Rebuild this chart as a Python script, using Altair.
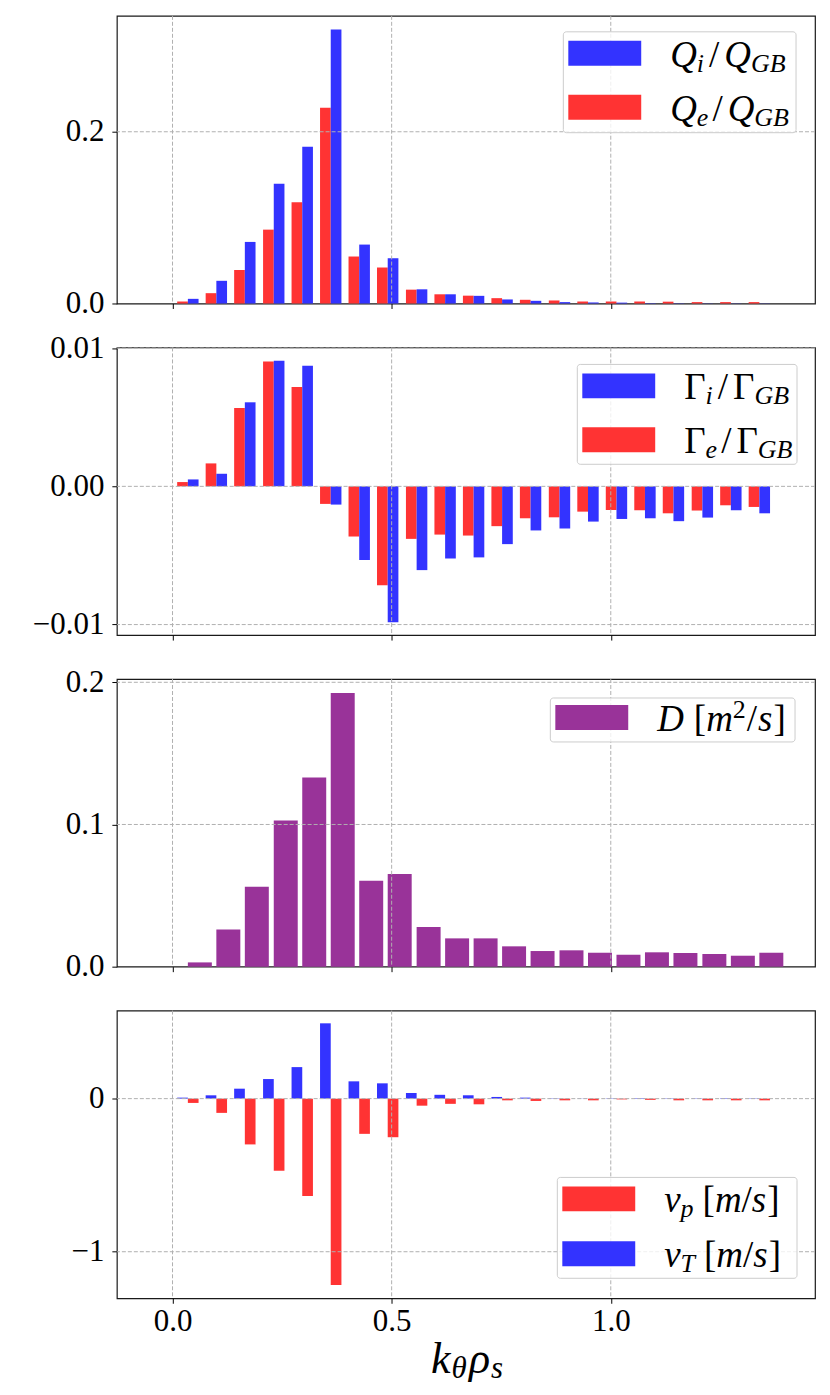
import altair as alt
import pandas as pd

# ---------------- data ----------------
k_vals = [0.035, 0.100, 0.165, 0.231, 0.296, 0.361, 0.426, 0.491, 0.557, 0.622, 0.687,
          0.752, 0.817, 0.883, 0.948, 1.013, 1.078, 1.143, 1.209, 1.274, 1.339]
Qi = [0.0054, 0.0264, 0.0717, 0.1395, 0.1826, 0.319, 0.0686, 0.0527, 0.0165, 0.0107, 0.0089,
      0.0047, 0.0031, 0.0016, 0.0012, 0.0010, 0.0004, 0.0003, 0.0002, 0.0002, 0.0002]
Qe = [0.0023, 0.0120, 0.0390, 0.0860, 0.1180, 0.228, 0.0547, 0.0419, 0.0161, 0.0107, 0.0091,
      0.0062, 0.0043, 0.0035, 0.0023, 0.0023, 0.0023, 0.0021, 0.0016, 0.0016, 0.0016]
Gi = [0.00050, 0.00091, 0.00608, 0.00908, 0.00872, -0.00132, -0.00533, -0.00983, -0.00606,
      -0.00522, -0.00514, -0.00418, -0.00319, -0.00305, -0.00255, -0.00236, -0.00231,
      -0.00252, -0.00226, -0.00173, -0.00195]
Ge = [0.00031, 0.00166, 0.00567, 0.00904, 0.00718, -0.00127, -0.00363, -0.00716, -0.00380,
      -0.00349, -0.00356, -0.00288, -0.00231, -0.00224, -0.00183, -0.00171, -0.00173,
      -0.00195, -0.00175, -0.00137, -0.00149]
D = [0.0030, 0.0262, 0.0562, 0.1028, 0.1330, 0.1925, 0.0604, 0.0651, 0.0279, 0.0199, 0.0199,
     0.0143, 0.0110, 0.0115, 0.0098, 0.0084, 0.0101, 0.0096, 0.0089, 0.0077, 0.0098]
vT = [0.0065, 0.0217, 0.065, 0.128, 0.206, 0.492, 0.113, 0.100, 0.037, 0.025, 0.022,
      0.011, 0.0065, 0.002, 0.001, 0.002, 0.003, 0.002, 0.002, 0.003, 0.002]
vp = [-0.028, -0.093, -0.299, -0.471, -0.636, -1.217, -0.230, -0.252, -0.046, -0.034, -0.037,
      -0.011, -0.015, -0.011, -0.011, -0.005, -0.008, -0.011, -0.011, -0.011, -0.011]

x_ticks = [0.0, 0.5, 1.0]
q_ticks = [0.0, 0.2]
g_ticks = [-0.01, 0.0, 0.01]
d_ticks = [0.0, 0.1, 0.2]
v_ticks = [-1, 0]

x_domain = [-0.127, 1.466]
q_domain = [0, 0.335]
g_domain = [-0.01076, 0.01005]
d_domain = [0, 0.2023]
v_domain = [-1.304, 0.575]

# ---------------- styling ----------------
RED = "#ff3333"
BLUE = "#3333ff"
PURPLE = "#993399"
GRID = "#b0b0b0"
FONT = "Liberation Serif"
TICK_FS = 31
W, H = 699, 288
BW = 0.0244   # width of a paired bar (data units)
DW = 0.0547   # width of a D bar (data units)

df = pd.DataFrame({"k": k_vals, "Qi": Qi, "Qe": Qe, "Gi": Gi, "Ge": Ge,
                   "D": D, "vT": vT, "vp": vp})
ONE = [{"o": 1}]

xs = alt.Scale(domain=x_domain, nice=False, zero=False)


def x_axis(labels):
    return alt.Axis(values=x_ticks, labels=labels, format=".1f", title=None, grid=False,
                    domain=False, ticks=True, tickSize=5, tickColor="black", tickWidth=1,
                    labelFont=FONT, labelFontSize=TICK_FS, labelColor="black",
                    labelPadding=3, labelFlush=False)


def y_axis(vals, fmt):
    return alt.Axis(values=vals, format=fmt, title=None, grid=False, domain=False,
                    tickSize=5, tickColor="black", tickWidth=1, labelFont=FONT,
                    labelFontSize=TICK_FS, labelColor="black", labelPadding=8,
                    labelFlush=False, minExtent=85, maxExtent=85)


def bar_layer(field, color, lo, hi, ys, xaxis, yaxis):
    return alt.Chart(df).transform_calculate(b0=lo, b1=hi).mark_bar(color=color).encode(
        x=alt.X("b0:Q", scale=xs, axis=xaxis),
        x2="b1:Q",
        y=alt.Y(f"{field}:Q", scale=ys, axis=yaxis),
        y2=alt.datum(0),
    )


def vgrid(xaxis):
    return alt.Chart(pd.DataFrame({"g": x_ticks})).mark_rule(
        color=GRID, strokeDash=[4, 2], strokeWidth=1).encode(
        x=alt.X("g:Q", scale=xs, axis=xaxis))


def hgrid(vals, ys, yaxis):
    return alt.Chart(pd.DataFrame({"g": vals})).mark_rule(
        color=GRID, strokeDash=[4, 2], strokeWidth=1).encode(
        y=alt.Y("g:Q", scale=ys, axis=yaxis))


def rect(x1, x2, y1, y2, **kw):
    return alt.Chart(alt.Data(values=ONE)).mark_rect(**kw).encode(
        x=alt.value(x1), x2=alt.value(x2), y=alt.value(y1), y2=alt.value(y2))


IT = {"Q": 0.722, "i": 0.278, "G": 0.722, "B": 0.611, "e": 0.444, "D": 0.722, "m": 0.722,
      "s": 0.389, "v": 0.444, "p": 0.5, "T": 0.556, "k": 0.444, "θ": 0.5, "ρ": 0.5}
RM = {"/": 0.278, "[": 0.333, "]": 0.333, "2": 0.5, "Γ": 0.58, " ": 0.25}


def piece_width(txt, style, size):
    table = IT if style == "it" else RM
    return sum(table.get(c, 0.5) for c in txt) * size


def math_text(pieces, x0, base_y, fs, ss, center=False):
    total = 0
    for txt, role, style, gap in pieces:
        total += piece_width(txt, style, fs if role == "n" else ss) + gap
    x = x0 - total / 2 if center else x0
    layers = []
    for txt, role, style, gap in pieces:
        size = fs if role == "n" else ss
        dy = 0 if role == "n" else (5 if role == "sub" else -13)
        layers.append(
            alt.Chart(alt.Data(values=ONE)).mark_text(
                align="left", baseline="alphabetic", font=FONT, fontSize=size,
                fontStyle="italic" if style == "it" else "normal", color="black"
            ).encode(x=alt.value(x), y=alt.value(base_y + dy), text=alt.value(txt))
        )
        x += piece_width(txt, style, size) + gap
    return layers


LFS, LSS = 37, 26


def legend(bx1, bx2, by1, by2, rows):
    layers = [rect(bx1, bx2, by1, by2, fill="white", fillOpacity=0.8, stroke="#cccccc",
                   strokeWidth=1, cornerRadius=3)]
    for (sy, color, pieces) in rows:
        layers.append(rect(bx1 + 5, bx1 + 78, sy, sy + 25, fill=color))
        layers += math_text(pieces, bx1 + 107, sy + 26, LFS, LSS)
    return layers


lab_Qi = [("Q", "n", "it", 0), ("i", "sub", "it", 5), ("/", "n", "rm", 5),
          ("Q", "n", "it", 0), ("GB", "sub", "it", 0)]
lab_Qe = [("Q", "n", "it", 0), ("e", "sub", "it", 4), ("/", "n", "rm", 5),
          ("Q", "n", "it", 0), ("GB", "sub", "it", 0)]
lab_Gi = [("Γ", "n", "rm", 0), ("i", "sub", "it", 5), ("/", "n", "rm", 5),
          ("Γ", "n", "rm", 0), ("GB", "sub", "it", 0)]
lab_Ge = [("Γ", "n", "rm", 0), ("e", "sub", "it", 4), ("/", "n", "rm", 5),
          ("Γ", "n", "rm", 0), ("GB", "sub", "it", 0)]
lab_D = [("D", "n", "it", 10), ("[", "n", "rm", 0), ("m", "n", "it", 0),
         ("2", "sup", "rm", 1), ("/", "n", "rm", 1), ("s", "n", "it", 1), ("]", "n", "rm", 0)]
lab_vp = [("v", "n", "it", 0), ("p", "sub", "it", 9), ("[", "n", "rm", 0), ("m", "n", "it", 0),
          ("/", "n", "rm", 0), ("s", "n", "it", 1), ("]", "n", "rm", 0)]
lab_vT = [("v", "n", "it", 0), ("T", "sub", "it", 9), ("[", "n", "rm", 0), ("m", "n", "it", 0),
          ("/", "n", "rm", 0), ("s", "n", "it", 1), ("]", "n", "rm", 0)]
lab_x = [("k", "n", "it", 1), ("θ", "sub", "it", 2), ("ρ", "n", "it", 0), ("s", "sub", "it", 0)]

# ---------------- panels ----------------
qs = alt.Scale(domain=q_domain, nice=False, zero=False)
gs = alt.Scale(domain=g_domain, nice=False, zero=False)
ds = alt.Scale(domain=d_domain, nice=False, zero=False)
vs = alt.Scale(domain=v_domain, nice=False, zero=False)


def panel(bars, ys, yvals, yfmt, grid_y, legend_layers, show_x, extra=()):
    xa = x_axis(show_x)
    ya = y_axis(yvals, yfmt)
    layers = [bar_layer(f, c, lo, hi, ys, xa, ya) for (f, c, lo, hi) in bars]
    layers += [vgrid(xa), hgrid(grid_y, ys, ya)]
    layers += legend_layers
    layers += list(extra)
    return alt.layer(*layers).properties(width=W, height=H)


left = f"datum.k - {BW}"
right = f"datum.k + {BW}"

p1 = panel([("Qe", RED, left, "datum.k"), ("Qi", BLUE, "datum.k", right)],
           qs, q_ticks, ".1f", [0.2],
           legend(447, 680, 16, 117, [(25, BLUE, lab_Qi), (79, RED, lab_Qe)]), False)

p2 = panel([("Ge", RED, left, "datum.k"), ("Gi", BLUE, "datum.k", right)],
           gs, g_ticks, ".2f", g_ticks,
           legend(461, 681, 17, 117, [(26, BLUE, lab_Gi), (80, RED, lab_Ge)]), False)

p3 = panel([("D", PURPLE, "datum.k", f"datum.k + {DW}")],
           ds, d_ticks, ".1f", [0.1, 0.2],
           legend(434, 679, 19, 63, [(26, PURPLE, lab_D)]), False)

p4 = panel([("vT", BLUE, left, "datum.k"), ("vp", RED, "datum.k", right)],
           vs, v_ticks, "d", v_ticks,
           legend(441, 681, 167, 268, [(176, RED, lab_vp), (231, BLUE, lab_vT)]), True,
           extra=math_text(lab_x, 350.5, 363, 44, 31, center=True))

chart = alt.vconcat(p1, p2, p3, p4, spacing=44, bounds="flush").configure_view(
    stroke="#1a1a1a", strokeWidth=1.2
).properties(
    padding={"left": 23, "top": 5, "right": 5, "bottom": 0},
    background="white",
)

chart.save("out.html", embed_options={"renderer": "svg", "actions": False})
